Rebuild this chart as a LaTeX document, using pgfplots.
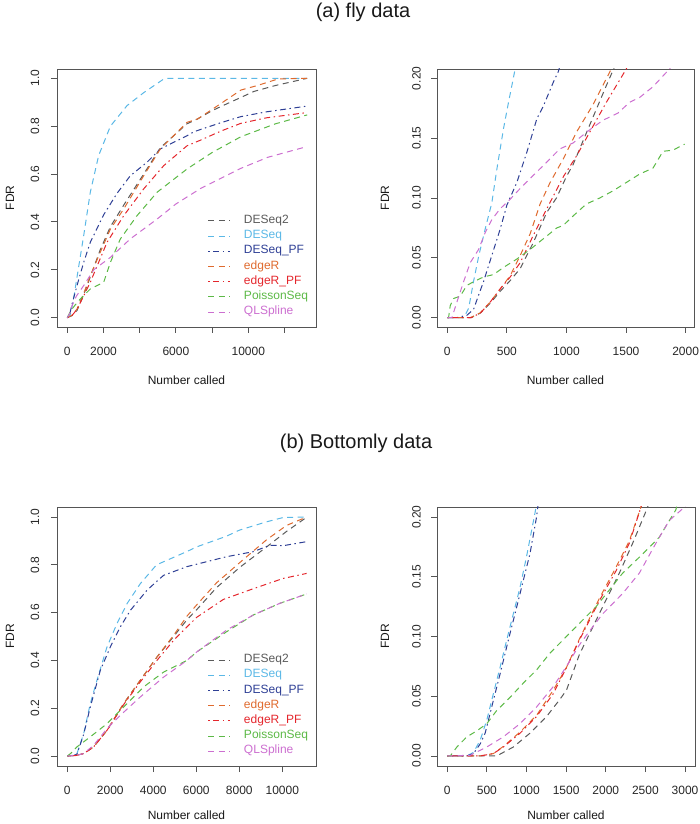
\documentclass[border=0pt]{standalone}
\usepackage{pgfplots}
\pgfplotsset{compat=1.18}
\usepackage{fontspec}
\setmainfont{Liberation Sans}
\definecolor{cDESeqTwo}{HTML}{5A5A5A}
\definecolor{cDESeq}{HTML}{5BB8E6}
\definecolor{cDESeqPF}{HTML}{2E3F95}
\definecolor{cEdgeR}{HTML}{DF6A2E}
\definecolor{cEdgeRPF}{HTML}{E4262C}
\definecolor{cPoisson}{HTML}{5CB946}
\definecolor{cQL}{HTML}{CC6FD0}
\definecolor{frame}{HTML}{555555}
\tikzset{
  dashR/.style={line width=1bp, dash pattern=on 6bp off 4.5bp},
  dotdashR/.style={line width=1bp, dash pattern=on 1.5bp off 3.5bp on 6bp off 3.5bp},
}
\pgfplotsset{
  rpanel/.style={
    scale only axis,
    axis line style={draw=frame, line width=0.9bp},
    tick align=outside,
    xtick pos=bottom, ytick pos=left,
    major tick length=6bp,
    every tick/.style={frame, line width=0.9bp},
    minor tick num=0,
    scaled ticks=false,
    ticklabel style={font=\fontsize{12bp}{14bp}\selectfont, text=black!85},
    xticklabel style={anchor=center, yshift=-18bp},
    every axis x label/.style={at={(axis description cs:0.5,0)}, anchor=center, yshift=-53bp, font=\fontsize{12bp}{14bp}\selectfont, text=black!90},
    xlabel={Number called},
    ylabel={FDR},
    legend image code/.code={\draw[##1] (0bp,0bp) -- (22bp,0bp);},
    legend style={draw=none, fill=none, inner sep=0pt, outer sep=0pt,
      row sep=0pt, column sep=13bp,
      font=\fontsize{12bp}{14bp}\selectfont,
      nodes={inner sep=0pt, text height=10.2bp, text depth=5bp}},
    legend cell align=left,
  },
  bottomrow/.style={
    every axis x label/.style={at={(axis description cs:0.5,0)}, anchor=center, yshift=-49bp, font=\fontsize{12bp}{14bp}\selectfont, text=black!90},
  },
  leftpanel/.style={
    rpanel,
    yticklabel style={anchor=center, xshift=-16bp, rotate=90},
    every axis y label/.style={at={(axis description cs:0,0.5)}, anchor=center, xshift=-47bp, rotate=90, font=\fontsize{12bp}{14bp}\selectfont, text=black!90},
    ytick={0,0.2,0.4,0.6,0.8,1.0},
    yticklabels={0.0,0.2,0.4,0.6,0.8,1.0},
  },
  rightpanel/.style={
    rpanel,
    yticklabel style={anchor=center, xshift=-14.5bp, rotate=90},
    every axis y label/.style={at={(axis description cs:0,0.5)}, anchor=center, xshift=-52bp, rotate=90, font=\fontsize{12bp}{14bp}\selectfont, text=black!90},
    ytick={0,0.05,0.10,0.15,0.20},
    yticklabels={0.00,0.05,0.10,0.15,0.20},
  },
}
\begin{document}
\begin{tikzpicture}
\useasboundingbox (0,0) rectangle (700bp,824bp);
\node[font=\fontsize{20bp}{24bp}\selectfont, text=black!90] at (363bp,812bp) {(a) fly data};
\node[font=\fontsize{20bp}{24bp}\selectfont, text=black!90] at (356bp,381bp) {(b) Bottomly data};

% ---------------- (a) fly data, full ----------------
\begin{axis}[leftpanel,
  at={(57bp,497bp)}, anchor=south west, width=259bp, height=258bp,
  xmin=-570, xmax=13740, ymin=-0.039, ymax=1.039,
  xtick={0,2000,4000,6000,8000,10000,12000},
  xticklabels={0,2000,,6000,,10000,},
  legend style={at={(axis description cs:0.583,0.2345)}, anchor=west},
]
\addplot[cDESeqTwo, dashR] coordinates {(0,0) (250,0.008) (536,0.03) (900,0.095) (1270,0.17) (1800,0.28) (2380,0.38) (3115,0.47) (4220,0.6) (5140,0.71) (6610,0.81) (7190,0.83) (8000,0.865) (9000,0.9) (9590,0.92) (10300,0.945) (11500,0.97) (13250,1.0)};
\addlegendentry{\textcolor{cDESeqTwo}{DESeq2}}
\addplot[cDESeq, dashR] coordinates {(0,0) (150,0.01) (315,0.064) (600,0.2) (905,0.343) (1270,0.524) (1730,0.677) (2380,0.80) (3300,0.886) (4220,0.94) (4800,0.97) (5325,0.997) (5500,1.0) (13250,1.0)};
\addlegendentry{\textcolor{cDESeq}{DESeq}}
\addplot[cDESeqPF, dotdashR] coordinates {(0,0) (150,0.02) (260,0.057) (536,0.134) (900,0.23) (1270,0.315) (2010,0.43) (2750,0.52) (3480,0.593) (4400,0.649) (5140,0.705) (6610,0.76) (7000,0.777) (8500,0.815) (9590,0.84) (11000,0.86) (13250,0.884)};
\addlegendentry{\textcolor{cDESeqPF}{DESeq\_PF}}
\addplot[cEdgeR, dashR] coordinates {(0,0) (250,0.01) (536,0.036) (900,0.1) (1270,0.175) (1800,0.27) (2380,0.37) (3115,0.454) (4220,0.593) (5140,0.705) (6610,0.816) (7190,0.83) (8000,0.87) (9590,0.951) (10500,0.97) (11630,0.997) (13250,1.0)};
\addlegendentry{\textcolor{cEdgeR}{edgeR}}
\addplot[cEdgeRPF, dotdashR] coordinates {(0,0) (250,0.008) (536,0.035) (900,0.09) (1270,0.148) (2195,0.315) (3115,0.426) (4220,0.538) (5325,0.635) (6610,0.718) (7370,0.742) (8500,0.78) (9590,0.812) (11000,0.835) (13250,0.857)};
\addlegendentry{\textcolor{cEdgeRPF}{edgeR\_PF}}
\addplot[cPoisson, dashR] coordinates {(0,0) (200,0.03) (400,0.05) (720,0.078) (1270,0.12) (2010,0.148) (2380,0.231) (2930,0.329) (3850,0.426) (4960,0.524) (6610,0.621) (8000,0.69) (9590,0.756) (11500,0.81) (13250,0.847)};
\addlegendentry{\textcolor{cPoisson}{PoissonSeq}}
\addplot[cQL, dashR] coordinates {(0,0) (150,0.02) (260,0.05) (500,0.09) (905,0.134) (1460,0.2) (2380,0.252) (3480,0.329) (4960,0.412) (6000,0.475) (7370,0.54) (9590,0.624) (11075,0.67) (13250,0.715)};
\addlegendentry{\textcolor{cQL}{QLSpline}}
\end{axis}

% ---------------- (a) fly data, zoom ----------------
\begin{axis}[rightpanel,
  at={(437bp,497bp)}, anchor=south west, width=257bp, height=258bp,
  xmin=-86, xmax=2070, ymin=-0.0078, ymax=0.2078,
  xtick={0,500,1000,1500,2000},
  xticklabels={0,500,1000,1500,2000},
]
\addplot[cDESeqTwo, dashR] coordinates {(0,0) (200,0) (280,0.004) (360,0.012) (444,0.022) (528,0.031) (612,0.041) (723,0.063) (835,0.088) (916,0.1) (1000,0.118) (1056,0.128) (1195,0.161) (1335,0.194) (1405,0.21) (1430,0.215)};
\addplot[cDESeq, dashR] coordinates {(0,0) (140,0) (180,0.008) (220,0.03) (265,0.052) (318,0.074) (374,0.096) (416,0.124) (472,0.158) (514,0.18) (570,0.208) (590,0.215)};
\addplot[cDESeqPF, dotdashR] coordinates {(0,0) (80,0) (165,0.002) (221,0.007) (260,0.018) (304,0.03) (374,0.052) (444,0.074) (500,0.094) (584,0.113) (667,0.138) (751,0.166) (807,0.177) (891,0.197) (933,0.206) (950,0.212)};
\addplot[cEdgeR, dashR] coordinates {(0,0) (193,0) (276,0.004) (360,0.013) (444,0.024) (528,0.035) (612,0.052) (695,0.07) (779,0.095) (863,0.113) (975,0.133) (1084,0.155) (1223,0.178) (1377,0.208) (1400,0.214)};
\addplot[cEdgeRPF, dotdashR] coordinates {(0,0) (200,0) (280,0.004) (360,0.013) (444,0.024) (528,0.034) (612,0.046) (723,0.069) (835,0.091) (975,0.118) (1084,0.135) (1223,0.16) (1335,0.18) (1503,0.208) (1520,0.213)};
\addplot[cPoisson, dashR] coordinates {(0,0) (11,0) (25,0.01) (53,0.016) (109,0.018) (165,0.027) (221,0.03) (304,0.034) (388,0.036) (472,0.042) (584,0.049) (695,0.057) (807,0.066) (919,0.075) (972,0.077) (1056,0.085) (1167,0.095) (1279,0.1) (1391,0.106) (1503,0.113) (1614,0.12) (1726,0.125) (1810,0.139) (1894,0.14) (1991,0.145)};
\addplot[cQL, dashR] coordinates {(0,0) (39,0) (81,0.013) (137,0.03) (193,0.046) (263,0.057) (318,0.071) (374,0.082) (444,0.091) (528,0.099) (612,0.108) (723,0.119) (835,0.13) (944,0.141) (1056,0.146) (1195,0.157) (1307,0.165) (1433,0.171) (1530,0.18) (1614,0.184) (1726,0.193) (1866,0.208) (1890,0.212)};
\end{axis}

% ---------------- (b) Bottomly data, full ----------------
\begin{axis}[leftpanel, bottomrow,
  at={(57bp,58bp)}, anchor=south west, width=259bp, height=259bp,
  xmin=-479, xmax=11567, ymin=-0.042, ymax=1.042,
  xtick={0,2000,4000,6000,8000,10000},
  xticklabels={0,2000,4000,6000,8000,10000},
  legend style={at={(axis description cs:0.583,0.233)}, anchor=west},
]
\addplot[cDESeqTwo, dashR] coordinates {(0,0) (400,0.002) (760,0.01) (1225,0.038) (1845,0.107) (2620,0.219) (3395,0.317) (4170,0.414) (4945,0.5) (5565,0.57) (6015,0.612) (6945,0.705) (8030,0.79) (9270,0.875) (10200,0.94) (11130,0.999)};
\addlegendentry{\textcolor{cDESeqTwo}{DESeq2}}
\addplot[cDESeq, dashR] coordinates {(0,0) (300,0.003) (450,0.01) (760,0.093) (1070,0.219) (1380,0.317) (1845,0.456) (2310,0.554) (2775,0.637) (3395,0.721) (4150,0.80) (5550,0.855) (6015,0.875) (7410,0.92) (8000,0.945) (9270,0.98) (10040,0.998) (11130,1.0)};
\addlegendentry{\textcolor{cDESeq}{DESeq}}
\addplot[cDESeqPF, dotdashR] coordinates {(0,0) (300,0.002) (450,0.008) (760,0.09) (1070,0.205) (1535,0.358) (2000,0.456) (2465,0.54) (2930,0.609) (3700,0.693) (4150,0.73) (4480,0.756) (5550,0.792) (7410,0.834) (8650,0.855) (9420,0.882) (10040,0.88) (11130,0.897)};
\addlegendentry{\textcolor{cDESeqPF}{DESeq\_PF}}
\addplot[cEdgeR, dashR] coordinates {(0,0) (400,0.002) (760,0.01) (1225,0.038) (1845,0.107) (2620,0.219) (3395,0.317) (4170,0.414) (4945,0.505) (5565,0.585) (6015,0.632) (6945,0.725) (8030,0.81) (9270,0.905) (10200,0.965) (11130,1.0)};
\addlegendentry{\textcolor{cEdgeR}{edgeR}}
\addplot[cEdgeRPF, dotdashR] coordinates {(0,0) (400,0.002) (760,0.01) (1225,0.038) (1845,0.107) (2620,0.215) (3395,0.31) (4170,0.4) (4945,0.484) (5565,0.54) (6015,0.58) (7255,0.655) (8650,0.70) (10040,0.743) (11130,0.764)};
\addlegendentry{\textcolor{cEdgeRPF}{edgeR\_PF}}
\addplot[cPoisson, dashR] coordinates {(0,0) (150,0.01) (450,0.038) (1070,0.08) (1845,0.135) (2620,0.205) (3550,0.289) (4480,0.351) (5565,0.40) (6015,0.435) (7410,0.52) (8650,0.59) (9890,0.639) (11130,0.678)};
\addlegendentry{\textcolor{cPoisson}{PoissonSeq}}
\addplot[cQL, dashR] coordinates {(0,0) (400,0.002) (760,0.01) (1225,0.045) (1845,0.114) (2465,0.17) (3395,0.247) (4480,0.33) (5565,0.40) (6015,0.435) (7410,0.527) (8650,0.59) (9890,0.639) (11130,0.678)};
\addlegendentry{\textcolor{cQL}{QLSpline}}
\end{axis}

% ---------------- (b) Bottomly data, zoom ----------------
\begin{axis}[rightpanel, bottomrow,
  at={(437bp,58bp)}, anchor=south west, width=258bp, height=259bp,
  xmin=-129, xmax=3126, ymin=-0.0084, ymax=0.2084,
  xtick={0,500,1000,1500,2000,2500,3000},
  xticklabels={0,500,1000,1500,2000,2500,3000},
]
\addplot[cDESeqTwo, dashR] coordinates {(0,0) (624,0) (834,0.0075) (1043,0.019) (1253,0.033) (1417,0.047) (1504,0.055) (1668,0.085) (1962,0.125) (2171,0.153) (2339,0.178) (2527,0.208) (2545,0.212)};
\addplot[cDESeq, dashR] coordinates {(0,0) (247,0) (331,0.003) (415,0.013) (499,0.03) (582,0.052) (666,0.074) (750,0.097) (834,0.119) (918,0.141) (1001,0.167) (1106,0.203) (1125,0.21)};
\addplot[cDESeqPF, dotdashR] coordinates {(0,0) (247,0) (331,0.002) (415,0.01) (478,0.019) (520,0.03) (603,0.052) (687,0.074) (771,0.097) (855,0.119) (960,0.147) (1043,0.169) (1127,0.2) (1145,0.21)};
\addplot[cEdgeR, dashR] coordinates {(0,0) (415,0) (582,0.002) (708,0.008) (918,0.02) (1127,0.034) (1337,0.055) (1504,0.074) (1668,0.098) (1920,0.132) (2130,0.158) (2297,0.18) (2443,0.208) (2460,0.212)};
\addplot[cEdgeRPF, dotdashR] coordinates {(0,0) (415,0) (582,0.002) (708,0.0075) (918,0.019) (1127,0.033) (1337,0.052) (1504,0.074) (1668,0.097) (1920,0.13) (2130,0.155) (2297,0.178) (2443,0.208) (2460,0.212)};
\addplot[cPoisson, dashR] coordinates {(0,0) (38,0) (122,0.0075) (247,0.016) (373,0.021) (499,0.027) (624,0.038) (792,0.049) (960,0.061) (1127,0.072) (1295,0.086) (1504,0.1) (1668,0.111) (1878,0.125) (2046,0.139) (2213,0.153) (2465,0.169) (2674,0.183) (2884,0.206) (2900,0.21)};
\addplot[cQL, dashR] coordinates {(0,0) (289,0.0006) (499,0.0075) (708,0.016) (918,0.027) (1127,0.041) (1337,0.058) (1504,0.075) (1668,0.093) (1800,0.105) (1962,0.119) (2213,0.136) (2423,0.153) (2632,0.178) (2800,0.197) (2988,0.208) (3010,0.21)};
\end{axis}
\end{tikzpicture}
\end{document}
